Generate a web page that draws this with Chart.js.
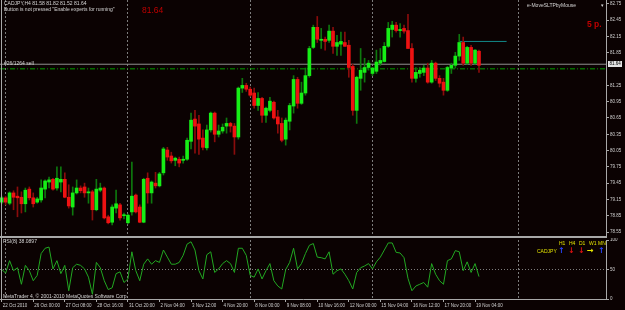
<!DOCTYPE html>
<html>
<head>
<meta charset="utf-8">
<title>CADJPY,H4</title>
<script src="https://cdn.jsdelivr.net/npm/chart.js@4.4.1/dist/chart.umd.min.js"></script>
<style>
  html, body { margin: 0; padding: 0; background: #0b0202; }
  #chart { position: relative; width: 625px; height: 310px; background: #0b0202; overflow: hidden;
           font-family: "Liberation Sans", Arial, sans-serif; }
  #chart canvas { position: absolute; left: 0; }
  #priceChart { top: 0; }
  #rsiChart { top: 238px; }
  .txt { position: absolute; white-space: nowrap; font-size: 5px; line-height: 5px; color: #d6d6d6; }
  .red { color: #c00000; font-size: 8.5px; line-height: 8px; }
  .yel { color: #e0e000; }
  .arr { position: absolute; font-family: "DejaVu Sans", sans-serif; font-size: 8px; line-height: 8px; font-weight: bold; }
  .rule { position: absolute; background: #a8a8a8; }
</style>
</head>
<body>
<div id="chart">
  <canvas id="priceChart" width="625" height="237"></canvas>
  <canvas id="rsiChart" width="625" height="72"></canvas>
  <div class="rule" style="left:0;top:236px;width:607px;height:2px"></div>
  <div class="rule" style="left:1px;top:0;width:1px;height:300px"></div>

  <div class="txt" style="left:4px;top:1px">CADJPY,H4 81.58 81.82 81.52 81.64</div>
  <div class="txt" style="left:4px;top:7px">Button is not pressed "Enable experts for running"</div>
  <div class="txt red" style="left:142px;top:6px">81.64</div>
  <div class="txt" style="left:4px;top:61px">#26/1264 sell</div>
  <div class="txt" style="left:527px;top:3px">e-MoveSLTPbyMouse</div>
  <div class="txt" style="left:601px;top:3px">&#9662;</div>
  <div class="txt red" style="left:587px;top:20px;font-weight:bold">5 p.</div>

  <div class="txt" style="left:3px;top:239px">RSI(8) 38.0897</div>
  <div class="txt" style="left:3px;top:294px">MetaTrader 4, &copy; 2001-2010 MetaQuotes Software Corp.</div>
  <div class="txt yel" style="left:559px;top:241px">H1</div>
  <div class="txt yel" style="left:569px;top:241px">H4</div>
  <div class="txt yel" style="left:579px;top:241px">D1</div>
  <div class="txt yel" style="left:589px;top:241px">W1</div>
  <div class="txt yel" style="left:598px;top:241px">MN</div>
  <div class="txt yel" style="left:537px;top:249px">CADJPY</div>
  <div class="arr" style="left:558px;top:247px;color:#2846ff">&#8593;</div>
  <div class="arr" style="left:568px;top:247px;color:#e01010">&#8595;</div>
  <div class="arr" style="left:578px;top:247px;color:#e01010">&#8595;</div>
  <div class="arr" style="left:587px;top:247px;color:#e8e800">&#8594;</div>
  <div class="arr" style="left:598px;top:247px;color:#2846ff">&#8593;</div>
</div>

<script>
// H4 bars, 22 Oct 2010 20:00 .. 19 Nov 2010 08:00
const opens = [
  79.10, 79.18, 79.08, 79.27, 79.21, 79.19, 79.07, 79.34, 79.18, 79.10,
  79.14, 79.34, 79.47, 79.52, 79.36, 79.47, 79.52, 79.19, 79.01, 79.27,
  79.36, 79.38, 79.27, 79.29, 78.96, 79.32, 79.36, 78.83, 78.73, 78.99,
  79.05, 78.85, 78.72, 78.92, 79.23, 79.01, 78.73, 79.54, 79.27, 79.45,
  79.40, 79.64, 80.06, 79.95, 79.87, 79.89, 79.87, 79.89, 80.22, 80.63,
  80.54, 80.28, 80.10, 80.43, 80.74, 80.35, 80.41, 80.50, 80.55, 80.50,
  80.30, 81.20, 81.25, 81.18, 81.11, 80.88, 81.01, 80.70, 80.79, 80.94,
  80.67, 80.55, 80.26, 80.59, 80.87, 81.36, 80.92, 81.11, 81.43, 81.95,
  82.32, 82.08, 82.10, 82.08, 82.25, 81.97, 82.01, 82.04, 81.99, 81.60,
  80.79, 81.38, 81.49, 81.58, 81.47, 81.51, 81.66, 81.69, 81.97, 82.28,
  82.36, 82.26, 82.30, 82.26, 81.93, 81.38, 81.47, 81.49, 81.57, 81.31,
  81.66, 81.38, 81.31, 81.16, 81.57, 81.62, 81.79, 82.04, 81.66, 81.95,
  81.66, 81.88
];
const highs = [
  79.21, 79.21, 79.29, 79.31, 79.38, 79.29, 79.36, 79.38, 79.27, 79.19,
  79.51, 79.51, 79.56, 79.54, 79.75, 79.75, 79.64, 79.42, 79.38, 79.51,
  79.40, 79.45, 79.36, 79.32, 79.52, 79.45, 79.38, 78.86, 79.05, 79.32,
  79.08, 78.90, 78.88, 79.84, 79.25, 79.05, 79.54, 79.64, 79.49, 79.65,
  79.65, 80.11, 80.11, 80.02, 79.93, 79.93, 79.95, 80.28, 80.74, 80.79,
  80.70, 80.43, 80.52, 80.76, 80.76, 80.52, 80.54, 80.65, 80.57, 80.55,
  81.22, 81.38, 81.29, 81.22, 81.20, 81.12, 81.03, 80.85, 81.03, 80.96,
  80.79, 80.65, 80.65, 80.92, 81.43, 81.40, 81.31, 81.57, 81.97, 82.36,
  82.52, 82.30, 82.14, 82.36, 82.32, 82.17, 82.23, 82.23, 82.08, 81.64,
  81.42, 81.93, 81.75, 81.71, 81.58, 81.90, 81.93, 82.04, 82.41, 82.43,
  82.41, 82.39, 82.36, 82.56, 82.02, 81.58, 81.58, 81.62, 81.66, 81.71,
  81.68, 81.43, 81.38, 81.60, 81.66, 81.86, 82.19, 82.14, 81.97, 81.99,
  81.91, 81.90
];
const lows = [
  79.07, 79.05, 79.05, 78.96, 78.83, 78.90, 78.92, 79.14, 79.01, 79.08,
  79.10, 79.18, 79.36, 79.32, 79.32, 79.29, 79.18, 78.99, 78.86, 79.25,
  79.27, 79.19, 79.08, 78.77, 78.94, 79.29, 78.79, 78.70, 78.68, 78.90,
  78.77, 78.79, 78.70, 78.86, 78.90, 78.72, 78.72, 79.08, 79.08, 79.36,
  79.38, 79.60, 79.87, 79.82, 79.77, 79.75, 79.82, 79.87, 80.08, 80.00,
  79.98, 80.06, 80.06, 80.39, 80.21, 80.30, 80.37, 80.37, 80.39, 79.98,
  80.26, 81.12, 81.14, 81.05, 80.83, 80.79, 80.57, 80.57, 80.76, 80.63,
  80.37, 80.21, 80.15, 80.43, 80.74, 80.83, 80.90, 81.07, 81.40, 81.93,
  82.04, 81.93, 81.90, 82.04, 81.84, 81.80, 81.80, 81.97, 81.40, 80.70,
  80.55, 81.16, 81.31, 81.53, 81.43, 81.47, 81.62, 81.68, 81.95, 82.14,
  82.23, 82.14, 82.21, 81.93, 81.31, 81.31, 81.40, 81.43, 81.29, 81.29,
  81.34, 81.22, 81.07, 81.14, 81.47, 81.57, 81.71, 81.62, 81.64, 81.62,
  81.64, 81.49
];
const closes = [
  79.18, 79.10, 79.27, 79.19, 79.18, 79.07, 79.32, 79.18, 79.07, 79.16,
  79.36, 79.49, 79.51, 79.34, 79.54, 79.52, 79.19, 79.03, 79.27, 79.36,
  79.31, 79.27, 79.29, 78.96, 79.34, 79.36, 78.81, 78.72, 79.01, 79.07,
  78.81, 78.86, 78.86, 79.21, 78.92, 78.73, 79.52, 79.27, 79.47, 79.40,
  79.62, 80.08, 79.93, 79.86, 79.91, 79.82, 79.89, 80.24, 80.61, 80.50,
  80.26, 80.11, 80.43, 80.74, 80.35, 80.41, 80.48, 80.55, 80.50, 80.30,
  81.20, 81.25, 81.18, 81.07, 80.88, 81.01, 80.70, 80.83, 80.96, 80.65,
  80.54, 80.24, 80.61, 80.88, 81.36, 80.92, 81.11, 81.43, 81.93, 82.32,
  82.10, 82.10, 82.06, 82.25, 81.97, 82.04, 82.06, 81.97, 81.58, 80.79,
  81.40, 81.53, 81.58, 81.66, 81.57, 81.68, 81.71, 81.97, 82.30, 82.36,
  82.26, 82.28, 82.25, 81.93, 81.38, 81.49, 81.53, 81.57, 81.31, 81.66,
  81.38, 81.29, 81.16, 81.58, 81.62, 81.79, 82.04, 81.66, 81.95, 81.66,
  81.90, 81.62
];
const rsiValues = [
  50, 44, 65, 48, 53, 25, 57, 48, 31, 40,
  77, 86, 88, 51, 65, 43, 57, 14, 53, 59,
  57, 51, 37, 8, 62, 53, 31, 16, 19, 43,
  46, 28, 34, 80, 48, 31, 59, 68, 59, 65,
  62, 83, 71, 59, 59, 62, 74, 93, 97, 83,
  48, 34, 75, 80, 45, 51, 60, 65, 60, 45,
  86, 86, 74, 40, 37, 51, 34, 48, 60, 31,
  22, 17, 50, 62, 86, 51, 60, 77, 91, 94,
  71, 70, 68, 80, 42, 48, 51, 42, 31, 17,
  45, 53, 56, 60, 51, 63, 71, 83, 95, 95,
  79, 78, 70, 35, 14, 22, 25, 28, 20, 60,
  42, 31, 25, 65, 68, 82, 80, 48, 63, 45,
  60, 38
];

const timeLabels = ["22 Oct 2010", "26 Oct 00:00", "27 Oct 08:00", "28 Oct 16:00", "31 Oct 20:00",
  "2 Nov 04:00", "3 Nov 12:00", "4 Nov 20:00", "8 Nov 00:00", "9 Nov 08:00", "10 Nov 16:00",
  "12 Nov 00:00", "15 Nov 04:00", "16 Nov 12:00", "17 Nov 20:00", "19 Nov 04:00"];
const labelBars = [0, 8, 16, 24, 32, 40, 48, 56, 64, 72, 80, 88, 96, 104, 112, 120];
const separatorBars = [1, 32, 63, 94, 131];

const priceTicks = [82.75, 82.45, 82.15, 81.85, 81.25, 80.95, 80.65, 80.35, 80.05, 79.75, 79.45, 79.15, 78.85, 78.55];
const rsiTicks = [100, 50, 0];

const bidPrice = 81.64;
const orderPrice = 81.555;
const tpPrice = 82.06;
const tpFrom = 116;
const tpTo = 128;

const palette = {
    bullBody: "#16ee16",
    bearBody: "#ee1212",
    bullWick: "#0e780e",
    bearWick: "#8a0c0c",
    rsi: "#22a822",
    grid: "#7c7c7c",
    axis: "#a8a8a8",
    text: "#d0d0d0",
    bid: "#909090",
    order: "#00a000",
    tp: "#138a8a",
};
const axisFont = { family: "Liberation Sans", size: 4.5 };

const xMin = -0.43;
const xMax = 153.2;
const priceMin = 78.458;
const priceMax = 82.823;

const isUp = opens.map((o, i) => closes[i] >= o);
const bodyData = opens.map((o, i) => ({ x: i, y: [o, closes[i]] }));
const wickData = opens.map((o, i) => ({ x: i, y: [lows[i], highs[i]] }));

const bidLabelPlugin = {
    id: "bidLabel",
    afterDraw(chart) {
        const y = chart.scales.y.getPixelForValue(bidPrice);
        const left = chart.chartArea.right + 2;
        const ctx = chart.ctx;
        ctx.save();
        ctx.fillStyle = "#e4e4e4";
        ctx.fillRect(left, Math.round(y) - 3, 14, 6);
        ctx.fillStyle = "#000000";
        ctx.font = "4.5px 'Liberation Sans'";
        ctx.textBaseline = "middle";
        ctx.fillText(bidPrice.toFixed(2), left + 1.5, y);
        ctx.restore();
    },
};

new Chart(document.getElementById("priceChart"), {
    type: "bar",
    data: {
        datasets: [
            {
                data: bodyData,
                backgroundColor: isUp.map((u) => (u ? palette.bullBody : palette.bearBody)),
                barThickness: 3,
                minBarLength: 1,
                grouped: false,
                order: 0,
            },
            {
                data: wickData,
                backgroundColor: isUp.map((u) => (u ? palette.bullWick : palette.bearWick)),
                barThickness: 1,
                grouped: false,
                order: 1,
            },
            {
                type: "line",
                data: [{ x: xMin, y: bidPrice }, { x: xMax, y: bidPrice }],
                borderColor: palette.bid,
                borderWidth: 1,
                pointRadius: 0,
                order: 2,
            },
            {
                type: "line",
                data: [{ x: xMin, y: orderPrice }, { x: xMax, y: orderPrice }],
                borderColor: palette.order,
                borderWidth: 1,
                borderDash: [5, 2, 1, 2],
                pointRadius: 0,
                order: 3,
            },
            {
                type: "line",
                data: [{ x: tpFrom, y: tpPrice }, { x: tpTo, y: tpPrice }],
                borderColor: palette.tp,
                borderWidth: 1,
                pointRadius: 0,
                order: 4,
            },
        ],
    },
    options: {
        responsive: false,
        animation: false,
        devicePixelRatio: 1,
        layout: { padding: 0 },
        plugins: { legend: { display: false }, tooltip: { enabled: false } },
        scales: {
            x: {
                type: "linear",
                min: xMin,
                max: xMax,
                offset: false,
                afterBuildTicks: (s) => { s.ticks = separatorBars.map((v) => ({ value: v })); },
                ticks: { display: false },
                grid: { offset: false, color: palette.grid, drawTicks: false },
                border: { display: false, dash: [2, 2] },
                afterFit: (s) => { s.height = 0; s.paddingLeft = 0; s.paddingRight = 0; },
            },
            y: {
                position: "right",
                min: priceMin,
                max: priceMax,
                afterBuildTicks: (s) => { s.ticks = priceTicks.map((v) => ({ value: v })); },
                ticks: { color: palette.text, font: axisFont, padding: 1, callback: (v) => v.toFixed(2) },
                grid: { color: "transparent", tickColor: palette.axis, tickLength: 3 },
                border: { display: true, color: palette.axis },
                afterFit: (s) => { s.width = 19; s.paddingTop = 0; s.paddingBottom = 0; },
            },
        },
    },
    plugins: [bidLabelPlugin],
});

const timeTicks = [...new Set(labelBars.concat(separatorBars))].sort((a, b) => a - b);

new Chart(document.getElementById("rsiChart"), {
    type: "line",
    data: {
        datasets: [
            {
                data: rsiValues.map((v, i) => ({ x: i, y: v })),
                borderColor: palette.rsi,
                borderWidth: 1,
                pointRadius: 0,
                tension: 0,
            },
        ],
    },
    options: {
        responsive: false,
        animation: false,
        devicePixelRatio: 1,
        layout: { padding: { top: 2, left: 0, right: 0, bottom: 0 } },
        plugins: { legend: { display: false }, tooltip: { enabled: false } },
        scales: {
            x: {
                type: "linear",
                min: xMin,
                max: xMax,
                offset: false,
                afterBuildTicks: (s) => { s.ticks = timeTicks.map((v) => ({ value: v })); },
                ticks: {
                    autoSkip: false,
                    maxRotation: 0,
                    minRotation: 0,
                    align: "start",
                    labelOffset: 1,
                    padding: 1,
                    color: palette.text,
                    font: axisFont,
                    callback: (v) => {
                        const i = labelBars.indexOf(v);
                        return i >= 0 ? timeLabels[i] : "";
                    },
                },
                grid: {
                    offset: false,
                    color: (c) => (c.tick && separatorBars.includes(c.tick.value) ? palette.grid : "transparent"),
                    tickColor: (c) => (c.tick && labelBars.includes(c.tick.value) ? palette.axis : "transparent"),
                    tickLength: 3,
                },
                border: { display: true, color: palette.axis, dash: [2, 2] },
                afterFit: (s) => { s.height = 11; s.paddingLeft = 0; s.paddingRight = 0; },
            },
            y: {
                position: "right",
                min: 0,
                max: 100,
                afterBuildTicks: (s) => { s.ticks = rsiTicks.map((v) => ({ value: v })); },
                ticks: { color: palette.text, font: axisFont, padding: 1 },
                grid: {
                    color: (c) => (c.tick && c.tick.value === 50 ? palette.grid : "transparent"),
                    tickColor: palette.axis,
                    tickLength: 3,
                },
                border: { display: true, color: palette.axis, dash: [1, 2] },
                afterFit: (s) => { s.width = 19; s.paddingTop = 0; s.paddingBottom = 0; },
            },
        },
    },
});
</script>
</body>
</html>
